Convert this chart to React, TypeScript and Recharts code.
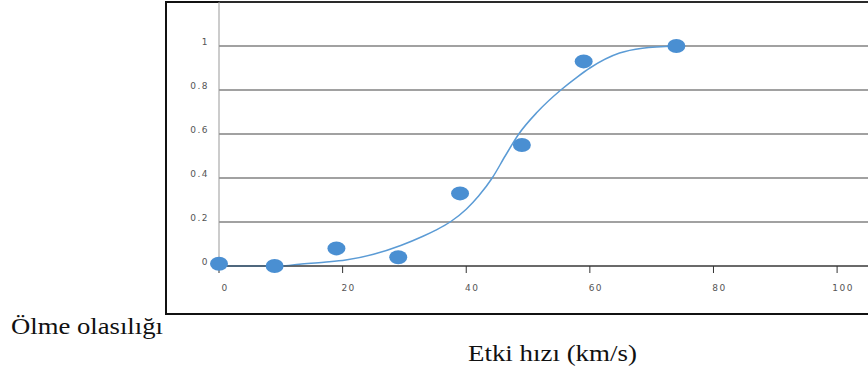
import { CartesianGrid, ComposedChart, Line, Scatter, XAxis, YAxis } from 'recharts'

const xTicks = [0, 20, 40, 60, 80, 100]
const yTicks = [0, 0.2, 0.4, 0.6, 0.8, 1]

// measured points
const speeds = [0, 9, 19, 29, 39, 49, 59, 74]
const deathProb = [0.01, 0, 0.08, 0.04, 0.33, 0.55, 0.93, 1]

// fitted curve
const curveX = [0, 5, 10, 13, 17, 20.5, 25, 29.4, 33, 35, 37.4, 40, 42, 44.2, 46.3, 48.5, 51.5, 55.3, 58, 60, 64.8, 68.5, 73.9]
const curveY = [0, 0, 0, 0.008, 0.017, 0.027, 0.053, 0.093, 0.135, 0.162, 0.2, 0.258, 0.318, 0.4, 0.5, 0.6, 0.7, 0.8, 0.86, 0.9, 0.968, 0.99, 1]

const points = speeds.map((x, i) => ({ x, y: deathProb[i] }))
const curve = curveX.map((x, i) => ({ x, y: curveY[i] }))

const blue = '#4a8fd2'
const tickFont = { fontSize: 9, fill: '#555', fontFamily: 'DejaVu Sans', letterSpacing: 1.5 }

const Dot = (props: any) => <ellipse cx={props.cx} cy={props.cy} rx={9} ry={7} fill={blue} />

const label = {
  position: 'absolute' as const,
  fontFamily: '"Liberation Serif"',
  fontSize: 23,
  lineHeight: 1,
  color: '#111',
  whiteSpace: 'nowrap' as const,
  transformOrigin: 'left top',
}

export default function App() {
  return (
    <div style={{ position: 'absolute', left: 0, top: 0, width: 868, height: 374, overflow: 'hidden', background: '#fff' }}>
      <div style={{ position: 'absolute', left: 165, top: 1, width: 740, height: 310, border: '2px solid #111' }} />
      <div style={{ position: 'absolute', left: 160, top: 0 }}>
        <ComposedChart width={720} height={310} margin={{ top: 2, right: 12, bottom: 0, left: 0 }}>
          <CartesianGrid vertical={false} stroke="#444" strokeWidth={1.2} />
          <XAxis
            type="number"
            dataKey="x"
            domain={[0, 105]}
            ticks={xTicks}
            height={44}
            stroke="#333"
            tickSize={7}
            tickMargin={12}
            tick={{ ...tickFont, dx: 6 }}
          />
          <YAxis
            type="number"
            dataKey="y"
            domain={[0, 1.2]}
            ticks={yTicks}
            width={59}
            stroke="#999"
            tickLine={false}
            tickSize={0}
            tickMargin={10}
            tick={{ ...tickFont, dy: -4 }}
          />
          <Line data={curve} dataKey="y" type="monotone" stroke="#5b9bd5" strokeWidth={1.5} dot={false} isAnimationActive={false} />
          <Scatter data={points} dataKey="y" shape={Dot} isAnimationActive={false} />
        </ComposedChart>
      </div>
      <div style={{ ...label, left: 11, top: 315, transform: 'scaleX(1.16)' }}>Ölme olasılığı</div>
      <div style={{ ...label, left: 468, top: 342, transform: 'scaleX(1.17)' }}>Etki hızı (km/s)</div>
    </div>
  )
}
